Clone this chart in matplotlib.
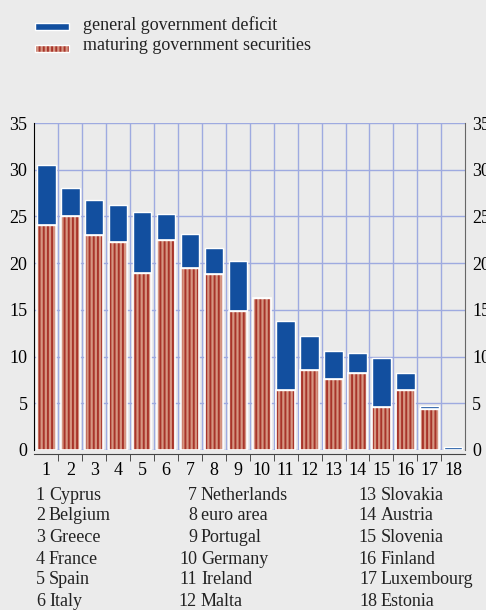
import numpy as np
import matplotlib
matplotlib.use("Agg")
import matplotlib.pyplot as plt
from matplotlib.patches import Rectangle

plt.rcParams['font.family'] = ['Liberation Serif', 'DejaVu Serif']
plt.rcParams['hatch.linewidth'] = 1.4

# data (percentage of GDP)
countries = ["Cyprus", "Belgium", "Greece", "France", "Spain", "Italy",
             "Netherlands", "euro area", "Portugal", "Germany", "Ireland", "Malta",
             "Slovakia", "Austria", "Slovenia", "Finland", "Luxembourg", "Estonia"]
maturing = [24.1, 25.1, 23.05, 22.3, 18.95, 22.5, 19.5, 18.8, 14.85, 16.3,
            6.4, 8.55, 7.6, 8.2, 4.65, 6.4, 4.35, 0.0]
total = [30.5, 28.0, 26.8, 26.2, 25.5, 25.3, 23.1, 21.6, 20.2, 16.3,
         13.85, 12.2, 10.6, 10.35, 9.8, 8.2, 4.7, 0.3]
deficit = [t - m for t, m in zip(total, maturing)]

bg = '#ebebeb'
blue = '#124f9f'
salmon = '#d69682'
stripe = '#a8342a'
grid_col = '#9eaae0'

fig = plt.figure(figsize=(4.86, 6.10), dpi=100, facecolor=bg)
ax = fig.add_axes([0.0708, 0.2623, 0.8864, 0.536], facecolor=bg)

x = np.arange(1, len(countries) + 1)
w = 0.77

# maturing securities: striped fill, then white outline on top
ax.bar(x, maturing, w, color=salmon, edgecolor=stripe, hatch='||||', linewidth=0, zorder=3)
ax.bar(x, maturing, w, fill=False, edgecolor='white', linewidth=1.2, zorder=4)
ax.bar(x, deficit, w, bottom=maturing, color=blue, edgecolor='white', linewidth=1.0, zorder=3)

ax.set_xlim(0.5, 18.5)
ax.set_ylim(0, 35)
ax.set_yticks(range(0, 36, 5))
ax.set_xticks(x)
ax.set_xticks(np.arange(1.5, 18.5, 1), minor=True)
ax.grid(axis='y', which='major', color=grid_col, linewidth=1.0, zorder=0)
ax.grid(axis='x', which='minor', color=grid_col, linewidth=1.0, zorder=0)
ax.grid(axis='x', which='major', visible=False)

ax.tick_params(axis='x', which='major', length=0, labelsize=13, pad=6)
ax.tick_params(axis='x', which='minor', length=5, direction='out', color='#333333')
ax.tick_params(axis='y', length=0, labelsize=13, pad=5,
               labelleft=True, labelright=True)

ax.spines['top'].set_visible(False)
ax.spines['left'].set_color('black')
ax.spines['right'].set_color('#666666')
ax.spines['bottom'].set_color('#444444')
ax.spines['bottom'].set_position(('outward', 3))

# legend
fig.patches.append(Rectangle((35 / 486, 1 - 30 / 610), 34 / 486, 7 / 610,
                             transform=fig.transFigure, facecolor=blue,
                             edgecolor='white', linewidth=1))
fig.patches.append(Rectangle((35 / 486, 1 - 52 / 610), 34 / 486, 7 / 610,
                             transform=fig.transFigure, facecolor=salmon,
                             edgecolor=stripe, hatch='||||', linewidth=0))
fig.patches.append(Rectangle((35 / 486, 1 - 52 / 610), 34 / 486, 7 / 610,
                             transform=fig.transFigure, fill=False,
                             edgecolor='white', linewidth=1))
fig.text(83 / 486, 1 - 25 / 610, "general government deficit", fontsize=13,
         va='center', ha='left', color='#222222')
fig.text(83 / 486, 1 - 46 / 610, "maturing government securities", fontsize=13,
         va='center', ha='left', color='#222222')

# country key
row_y = [495, 516, 538, 559, 580, 602]
num_right = [45, 197, 377]
for i, name in enumerate(countries):
    col, row = divmod(i, 6)
    yy = 1 - row_y[row] / 610
    fig.text(num_right[col] / 486, yy, str(i + 1), fontsize=13, va='center',
             ha='right', color='#222222')
    fig.text((num_right[col] + 4) / 486, yy, name, fontsize=13, va='center',
             ha='left', color='#222222')

fig.savefig("out.png", dpi=100, facecolor=bg)
